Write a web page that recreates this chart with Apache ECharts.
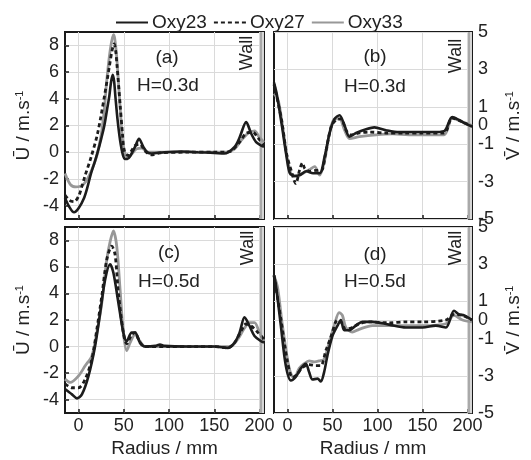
<!DOCTYPE html>
<html><head><meta charset="utf-8">
<script src="https://cdn.jsdelivr.net/npm/echarts@6/dist/echarts.min.js"></script>
<style>html,body{margin:0;padding:0;background:#fff}#c{width:531px;height:460px}</style>
</head><body><div id="c"></div>
<script>
const seriesNames = ['Oxy23', 'Oxy27', 'Oxy33'];
const xTicks = [0, 50, 100, 150, 200];
const uTicks = [-4, -2, 0, 2, 4, 6, 8];
const vTicks = [-5, -3, -1, 0, 1, 3, 5];
const panelLabels = ['(a)', '(b)', '(c)', '(d)'];
const heightLabels = ['H=0.3d', 'H=0.3d', 'H=0.5d', 'H=0.5d'];
const wallRange = [200, 205];

// Panel (a): U, H=0.3d
const aOxy23 = [[-15,-3.4],[-11,-4.0],[-5,-4.5],[0,-4.2],[6.2,-3.4],[9.9,-2.6],[13.7,-1.6],[18,-0.7],[21.1,0],[25,1.0],[28.5,2.0],[31.5,3.2],[34,4.2],[36,5.3],[37.8,5.8],[39.3,5.3],[40.8,4.1],[43,2.5],[45.9,0.9],[49,-0.2],[51.4,-0.5],[54,-0.5],[57,-0.3],[62.4,0.4],[66.8,1.0],[71.6,0.4],[76,0],[80.7,-0.1],[95,0],[113.8,0.05],[132,0],[150,-0.05],[161,-0.1],[172.5,0.4],[178,1.1],[185.3,2.25],[190.8,1.4],[196.3,0.75],[201.8,0.5],[205,0.4]];
const aOxy27 = [[-15,-3.2],[-10,-3.6],[-5,-3.7],[0,-3.3],[3.5,-2.6],[7,-1.8],[13.7,-0.4],[21,1.4],[28.5,4.15],[34,6.4],[37,7.6],[39.3,8.1],[41,7.6],[42.5,6.5],[45.9,3.6],[48.5,1.4],[50.6,0.1],[55,-0.25],[58.5,0.1],[62.4,0.5],[67.9,0.6],[73.4,0.1],[80.7,-0.2],[90,-0.05],[120,0],[150,0],[162,0],[168.8,0.1],[178,0.75],[185,1.4],[192.7,1.5],[198,1.1],[205,0.5]];
const aOxy33 = [[-15,-1.6],[-9.2,-2.4],[-3,-2.6],[2,-2.55],[5.5,-2.4],[9,-2.1],[12.8,-1.6],[16.5,-1.0],[20.2,-0.25],[23,0.6],[25.7,1.6],[28.5,3.2],[31.2,5.4],[34.9,7.6],[38.5,8.8],[40,8.5],[42.2,7.1],[45.9,3.4],[48.5,1.0],[51.4,-0.1],[54,-0.3],[57,-0.25],[64.2,0.25],[69.7,0.3],[77,0],[100,0],[130,0],[160,0],[166,0.05],[172.5,0.25],[180,0.9],[187,1.4],[194.5,1.6],[200,1.1],[205,0.75]];

// Panel (b): V, H=0.3d
const bOxy23 = [[-15,2.3],[-12,1.7],[-6.6,0.1],[-1.1,-1.65],[2.6,-2.55],[8.1,-2.7],[13.6,-2.65],[21,-2.45],[28.4,-2.55],[35.7,-2.55],[41.3,-1.65],[46.8,-0.4],[52.3,0.35],[57.8,0.55],[63.4,0],[68.9,-0.6],[76.2,-0.4],[87.3,-0.2],[96.5,-0.1],[109.4,-0.25],[124,-0.35],[142.5,-0.35],[161,-0.35],[174,-0.3],[183,0.45],[190.4,0.3],[197.8,0.1],[205,-0.05]];
const bOxy27 = [[-15,2.2],[-6.6,0.3],[-1.1,-1.5],[4.4,-2.45],[9.2,-3.1],[13.6,-2.35],[16.6,-2.0],[19.2,-2.3],[24.7,-2.45],[32,-2.4],[37.6,-2.4],[43,-1.3],[48.6,-0.05],[54,0.3],[59.7,0.35],[65,-0.25],[70.7,-0.5],[80,-0.4],[91,-0.35],[109.4,-0.4],[130,-0.4],[150,-0.4],[174,-0.4],[183,0.4],[194,0.2],[205,-0.05]];
const bOxy33 = [[-15,1.7],[-10.3,1.35],[-4.8,-0.25],[0.7,-2.0],[6.3,-2.7],[11.8,-2.7],[17.3,-2.55],[24.7,-2.35],[30.2,-2.2],[35.7,-2.65],[41.3,-1.85],[46.8,-0.4],[52.3,0.35],[57.8,0.35],[63.4,-0.25],[68.9,-0.7],[80,-0.6],[98.3,-0.5],[116.8,-0.45],[135,-0.5],[153.6,-0.5],[174,-0.5],[183,0.4],[194,0.2],[205,0]];

// Panel (c): U, H=0.5d
const cOxy23 = [[-15,-3.2],[-7.3,-3.6],[-1.8,-3.9],[3.7,-3.6],[11,-2.2],[18.3,0.05],[23.9,2.55],[29.4,5.05],[34.9,6.2],[38.5,5.55],[44,3.3],[49.5,1.05],[53.2,0.4],[58.7,1.05],[62.4,1.05],[67.9,0.3],[73.4,0],[85,0.05],[90,0.15],[95,0.05],[120,0],[150,0],[165,-0.1],[172.5,0.3],[178,1.05],[183.5,2.2],[189,1.55],[194.5,0.8],[201.8,0.4],[205,0.3]];
const cOxy27 = [[-15,-2.8],[-7.3,-3.1],[0,-3.1],[7.3,-2.45],[14.7,-0.95],[20.2,1.3],[25.7,3.8],[31.2,6.55],[36.7,7.55],[40.4,6.9],[44,4.05],[49.5,1.05],[53.2,0.2],[58.7,0.9],[62.4,1.05],[67.9,0.3],[73.4,0],[100,0],[130,0],[150,0],[165,-0.1],[172.5,0.3],[180,1.2],[185,1.7],[190.8,1.55],[196.3,1.2],[205,0.55]];
const cOxy33 = [[-15,-2.45],[-9.2,-2.7],[0,-2.2],[7.3,-1.45],[14.7,-0.7],[20.2,1.05],[25.7,3.3],[31.2,6.55],[34.9,7.9],[38.5,8.7],[42.2,7.55],[45.9,4.3],[49.5,1.05],[53.2,-0.3],[57,0.3],[62.4,0.9],[67.9,0.4],[73.4,0],[100,0],[130,0],[160,0],[168,0],[176,0.55],[183.5,1.4],[189,1.8],[194.5,1.8],[200,1.05],[205,0.4]];

// Panel (d): V, H=0.5d
const dOxy23 = [[-15,2.4],[-13,1.9],[-7.4,-0.3],[-1.9,-2.45],[3.7,-3.25],[9.3,-3.05],[14.8,-2.6],[20.4,-2.35],[24,-2.8],[27.8,-3.2],[33.3,-3.15],[37,-3.3],[40.7,-2.8],[44.4,-1.9],[50,-0.85],[55.6,-0.3],[59.3,0],[63,-0.55],[68.5,-0.55],[75.9,-0.3],[83.3,-0.1],[94.4,-0.1],[113,-0.25],[131.5,-0.4],[150,-0.4],[164.8,-0.3],[176,-0.4],[185,0.5],[190.7,0.3],[196.3,0.25],[205,0]];
const dOxy27 = [[-15,2.4],[-7.4,0.05],[0,-2.25],[5.6,-3.1],[11,-2.9],[16.7,-2.55],[24,-2.4],[31.5,-2.45],[37,-2.45],[42.6,-1.65],[48,-0.95],[55.6,0],[59.3,-0.1],[64.8,-0.5],[72,-0.4],[79.6,-0.2],[90.7,-0.1],[113,-0.15],[131.5,-0.1],[150,-0.1],[176,0],[185,0.3],[194.4,0.25],[205,0]];
const dOxy33 = [[-15,2.4],[-11,1.75],[-5.6,-0.3],[1.9,-2.6],[7.4,-3.15],[13,-2.6],[18.5,-2.35],[24,-2.2],[29.6,-2.25],[35.2,-2.2],[40.7,-2.1],[46.3,-1.2],[51.9,-0.3],[57.4,0.4],[61,0.25],[64.8,-0.4],[72,-0.65],[79.6,-0.5],[94.4,-0.3],[113,-0.3],[131.5,-0.3],[150,-0.3],[176,-0.2],[185,0.25],[194.4,0],[205,-0.1]];

const panelData = [[aOxy23,aOxy27,aOxy33],[bOxy23,bOxy27,bOxy33],[cOxy23,cOxy27,cOxy33],[dOxy23,dOxy27,dOxy33]];

const FONT = 'Liberation Sans, Arial, sans-serif';
const styles = [
  {color:'#1c1c1c', type:'solid', width:2.6, z:5},
  {color:'#1c1c1c', type:[4,3], width:2.8, z:4},
  {color:'#989898', type:'solid', width:2.8, z:3}
];
const grids = [
  {left:65, top:32, width:199, height:187},
  {left:274, top:32, width:198, height:187},
  {left:65, top:227, width:199, height:186},
  {left:274, top:227, width:198, height:186}
];

const option = {
  animation:false,
  backgroundColor:'#fff',
  textStyle:{fontFamily:FONT},
  legend:{
    left:110, top:8, itemWidth:32, itemHeight:12, itemGap:6,
    data:seriesNames,
    itemStyle:{opacity:0, borderWidth:0},
    textStyle:{fontSize:19, color:'#222', fontFamily:FONT, padding:[0,0,0,-1]}
  },
  grid: grids.map(g => Object.assign({show:true, borderColor:'#1a1a1a', borderWidth:2, backgroundColor:'transparent'}, g)),
  xAxis: grids.map((g,i) => ({
    gridIndex:i, type:'value', min:-15, max:205,
    name: i>=2 ? 'Radius / mm' : '', nameLocation:'middle', nameGap:26,
    nameTextStyle:{fontSize:19, color:'#222', fontFamily:FONT},
    axisLine:{show:false, onZero:false},
    axisTick:{show:true, inside:true, length:4, customValues:xTicks, lineStyle:{color:'#1a1a1a', width:1.5}},
    axisLabel:{show:i>=2, customValues:xTicks, fontSize:18, color:'#222', margin:4, fontFamily:FONT, showMinLabel:true, showMaxLabel:true},
    splitLine:{show:true, lineStyle:{color:'#dadada', width:1}}
  })),
  yAxis: grids.map((g,i) => {
    const isU = (i % 2 === 0);
    return {
      gridIndex:i, type:'value', position: isU ? 'left' : 'right',
      min:-5, max: isU ? 9 : 5,
      name: isU ? 'Ū / m.s{sup|-1}' : 'V\u0304 / m.s{sup|-1}',
      nameLocation:'middle', nameRotate:90, nameGap:32,
      nameTextStyle:{fontSize:19, color:'#222', fontFamily:FONT,
        rich:{sup:{fontSize:11, color:'#222', verticalAlign:'top', fontFamily:FONT}}},
      axisLine:{show:false, onZero:false},
      axisTick:{show:true, inside:true, length:4, customValues: isU ? uTicks : vTicks, lineStyle:{color:'#1a1a1a', width:1.5}},
      axisLabel:{customValues: isU ? uTicks : vTicks, fontSize:18, color:'#222', margin:6, fontFamily:FONT},
      splitLine:{show:true, lineStyle:{color:'#dadada', width:1}}
    };
  }),
  series: [],
  graphic: []
};

panelData.forEach((sets, p) => {
  sets.forEach((data, k) => {
    const st = styles[k];
    const s = {
      name: seriesNames[k], type:'line', xAxisIndex:p, yAxisIndex:p,
      data: data, symbol:'none', smooth:0.3, z: st.z,
      lineStyle:{color:st.color, type:st.type, width:st.width},
      itemStyle:{color:st.color}
    };
    if (k === 0) {
      s.markArea = {silent:true, itemStyle:{color:'#d6d6d6'}, data:[[{xAxis:wallRange[0]},{xAxis:wallRange[1]}]]};
      s.markLine = {silent:true, symbol:'none', label:{show:false}, lineStyle:{color:'#9a9a9a', type:'solid', width:1.5}, data:[{xAxis:(wallRange[0]+wallRange[1])/2 - 1}]};
    }
    option.series.push(s);
  });
});

// panel annotations
const annot = [
  {lab:[167,58], h:[168,86], wall:[247,53]},
  {lab:[375,57], h:[375,87], wall:[456,56]},
  {lab:[169,253], h:[169,282], wall:[248,248]},
  {lab:[375,255], h:[375,282], wall:[456,248]}
];
annot.forEach((a,p) => {
  option.graphic.push({type:'text', x:a.lab[0], y:a.lab[1], style:{text:panelLabels[p], font:'19px '+FONT, fill:'#222', align:'center', verticalAlign:'middle'}, z:10});
  option.graphic.push({type:'text', x:a.h[0], y:a.h[1], style:{text:heightLabels[p], font:'19px '+FONT, fill:'#222', align:'center', verticalAlign:'middle'}, z:10});
  option.graphic.push({type:'text', x:a.wall[0], y:a.wall[1], rotation:Math.PI/2, style:{text:'Wall', font:'18px '+FONT, fill:'#222', align:'center', verticalAlign:'middle'}, z:10});
});

const chart = echarts.init(document.getElementById('c'), null, {renderer:'canvas'});
chart.setOption(option);
</script></body></html>
